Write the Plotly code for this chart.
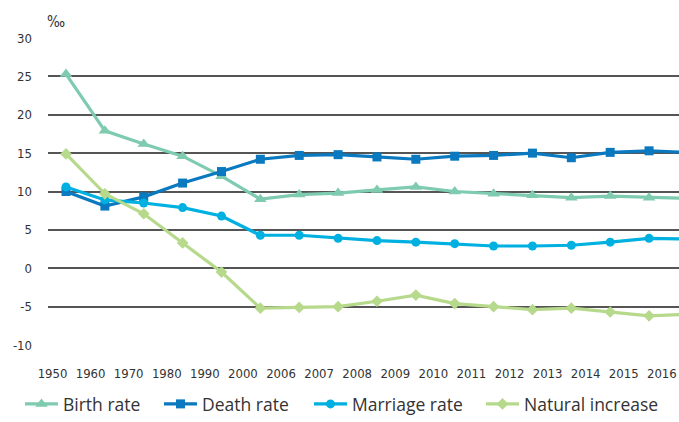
import plotly.graph_objects as go

years = ["1950", "1960", "1970", "1980", "1990", "2000", "2006", "2007", "2008",
         "2009", "2010", "2011", "2012", "2013", "2014", "2015", "2016"]
birth_rate = [25.3, 17.9, 16.2, 14.6, 12.0, 9.0, 9.6, 9.8, 10.2, 10.6, 10.0, 9.7, 9.5, 9.2, 9.4, 9.2, 9.1]
death_rate = [10.0, 8.1, 9.3, 11.1, 12.6, 14.2, 14.7, 14.8, 14.5, 14.2, 14.6, 14.7, 15.0, 14.4, 15.1, 15.3, 15.1]
marriage_rate = [10.6, 8.9, 8.5, 7.9, 6.8, 4.3, 4.3, 3.9, 3.6, 3.4, 3.2, 2.9, 2.9, 3.0, 3.4, 3.9, 3.8]
natural_increase = [14.9, 9.7, 7.1, 3.3, -0.5, -5.2, -5.1, -5.0, -4.3, -3.5, -4.6, -5.0, -5.4, -5.2, -5.7, -6.2, -6.0]
y_ticks = [-10, -5, 0, 5, 10, 15, 20, 25, 30]
y_tick_text = ["-10", "-5", "0", "5", "10", "15", "20", "25", "30"]

idx = list(range(len(years)))
series = [
    ("Birth rate", birth_rate, "#7ecbb0", "triangle-up", 11),
    ("Death rate", death_rate, "#0a79bf", "square", 9),
    ("Marriage rate", marriage_rate, "#00b0e0", "circle", 9),
    ("Natural increase", natural_increase, "#b6d98b", "diamond", 9),
]
legend_ids = ["legend", "legend2", "legend3", "legend4"]
legend_left_px = [20, 159, 309, 481]

fig = go.Figure()
for (name, vals, col, sym, sz), lid in zip(series, legend_ids):
    fig.add_trace(go.Scatter(
        x=idx, y=vals, name=name, mode="lines+markers", legend=lid,
        line=dict(color=col, width=3.2),
        marker=dict(symbol=sym, size=sz, color=col),
    ))

# category labels sit on a slightly tighter spacing than the points
tick_pos = [-0.347 + 0.9797 * i for i in idx]
tick_font = dict(family="Liberation Sans Narrow, DejaVu Sans Condensed, sans-serif",
                 size=13, color="#333333")

legend_common = dict(orientation="h", xref="container", yref="container",
                     xanchor="left", y=0, yanchor="bottom",
                     font=dict(family="Open Sans, sans-serif", size=17.5, color="#333333"),
                     itemwidth=33, bgcolor="rgba(0,0,0,0)")
legend_layouts = {lid: dict(legend_common, x=px / 679) for lid, px in zip(legend_ids, legend_left_px)}

fig.update_layout(
    width=679, height=422,
    margin=dict(l=48, r=0, t=38, b=77, autoexpand=False),
    paper_bgcolor="white", plot_bgcolor="white",
    showlegend=True,
    xaxis=dict(range=[-0.463, 15.77], showgrid=False, zeroline=False, showline=False,
               automargin=False, ticklabeloverflow="allow",
               tickmode="array", tickvals=tick_pos, ticktext=years, ticks="",
               ticklabelstandoff=19, tickfont=tick_font),
    yaxis=dict(range=[-10, 30], tickmode="array", tickvals=y_ticks, ticktext=y_tick_text,
               showgrid=True, automargin=False,
               gridcolor="#555555", gridwidth=1.5, zeroline=False, showline=False,
               ticks="", ticklabelstandoff=15, tickfont=tick_font),
    **legend_layouts,
)
fig.add_annotation(text="‰", xref="paper", yref="paper", x=(56 - 48) / 631, y=(345 - 22) / 307,
                   xanchor="center", yanchor="middle", showarrow=False,
                   font=dict(family=tick_font["family"], size=15, color="#333333"))

fig.write_html("out.html", config={"displayModeBar": False},
               post_script="document.body.style.margin='0';document.body.style.overflow='hidden';")
